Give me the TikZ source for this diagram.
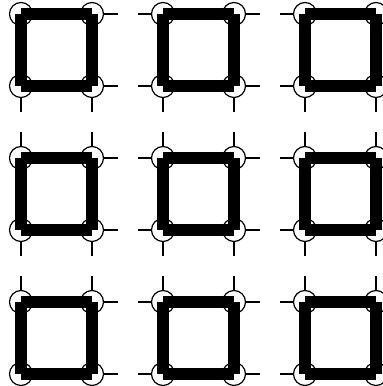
\documentclass[tikz,border=0pt]{standalone}
\usepackage{tikz}
\usetikzlibrary{positioning}

\begin{document}
\begin{tikzpicture}[
    x=1pt, y=-1pt,
    corner/.style={draw, circle, minimum size=23pt, inner sep=0pt, line width=1.2pt},
    side/.style={line width=12.5pt, line cap=butt},
    link/.style={line width=1.4pt, dash pattern=on 14pt off 20pt}
]
    \useasboundingbox (0,0) rectangle (383,386);
    % lattice points
    \foreach \i in {0,...,5} {
        \foreach \j in {0,...,5} {
            \node[corner] (p\i\j) at ({21+71*\i}, {14+72*\j}) {};
        }
    }
    % thick square sides
    \foreach \a [evaluate=\a as \b using int(\a+1)] in {0,2,4} {
        \foreach \j in {0,...,5} {
            \draw[side] (p\a\j.center) -- (p\b\j.center);
            \draw[side] (p\j\a.center) -- (p\j\b.center);
        }
    }
    % dashed links between squares
    \foreach \a [evaluate=\a as \b using int(\a+1)] in {1,3} {
        \foreach \j in {0,...,5} {
            \draw[link] (p\a\j) -- (p\b\j);
            \draw[link] (p\j\a) -- (p\j\b);
        }
    }
\end{tikzpicture}
\end{document}
